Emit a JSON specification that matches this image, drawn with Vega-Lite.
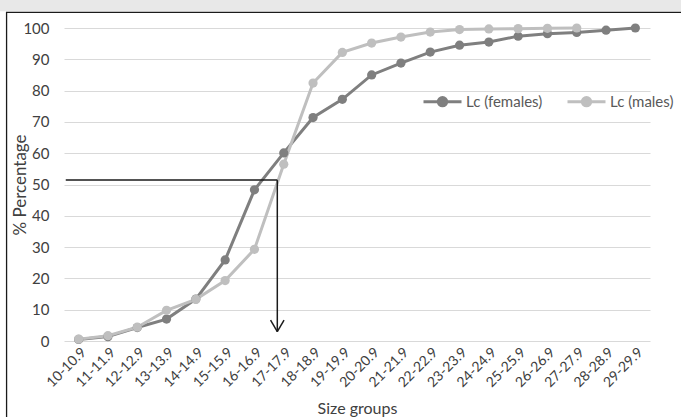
{
  "$schema": "https://vega.github.io/schema/vega-lite/v6.json",
  "width": 586,
  "height": 313,
  "autosize": "none",
  "padding": {"left": 64, "top": 28, "right": 31, "bottom": 76},
  "background": "white",
  "config": {
    "view": {"stroke": null},
    "font": "Lato",
    "axisY": {"tickCount": 11, "labelOverlap": false},
    "axisX": {"tickCount": 20, "labelOverlap": false}
  },
  "datasets": {
    "lc": [
      {"idx": 0, "size": "10-10.9", "sex": "Lc (females)", "pct": 0.5},
      {"idx": 1, "size": "11-11.9", "sex": "Lc (females)", "pct": 1.4},
      {"idx": 2, "size": "12-12.9", "sex": "Lc (females)", "pct": 4.3},
      {"idx": 3, "size": "13-13.9", "sex": "Lc (females)", "pct": 7.0},
      {"idx": 4, "size": "14-14.9", "sex": "Lc (females)", "pct": 13.4},
      {"idx": 5, "size": "15-15.9", "sex": "Lc (females)", "pct": 25.9},
      {"idx": 6, "size": "16-16.9", "sex": "Lc (females)", "pct": 48.3},
      {"idx": 7, "size": "17-17.9", "sex": "Lc (females)", "pct": 60.1},
      {"idx": 8, "size": "18-18.9", "sex": "Lc (females)", "pct": 71.4},
      {"idx": 9, "size": "19-19.9", "sex": "Lc (females)", "pct": 77.2},
      {"idx": 10, "size": "20-20.9", "sex": "Lc (females)", "pct": 85.0},
      {"idx": 11, "size": "21-21.9", "sex": "Lc (females)", "pct": 88.8},
      {"idx": 12, "size": "22-22.9", "sex": "Lc (females)", "pct": 92.3},
      {"idx": 13, "size": "23-23.9", "sex": "Lc (females)", "pct": 94.5},
      {"idx": 14, "size": "24-24.9", "sex": "Lc (females)", "pct": 95.5},
      {"idx": 15, "size": "25-25.9", "sex": "Lc (females)", "pct": 97.4},
      {"idx": 16, "size": "26-26.9", "sex": "Lc (females)", "pct": 98.2},
      {"idx": 17, "size": "27-27.9", "sex": "Lc (females)", "pct": 98.6},
      {"idx": 18, "size": "28-28.9", "sex": "Lc (females)", "pct": 99.3},
      {"idx": 19, "size": "29-29.9", "sex": "Lc (females)", "pct": 100},
      {"idx": 0, "size": "10-10.9", "sex": "Lc (males)", "pct": 0.6},
      {"idx": 1, "size": "11-11.9", "sex": "Lc (males)", "pct": 1.7},
      {"idx": 2, "size": "12-12.9", "sex": "Lc (males)", "pct": 4.4},
      {"idx": 3, "size": "13-13.9", "sex": "Lc (males)", "pct": 9.8},
      {"idx": 4, "size": "14-14.9", "sex": "Lc (males)", "pct": 13.3},
      {"idx": 5, "size": "15-15.9", "sex": "Lc (males)", "pct": 19.3},
      {"idx": 6, "size": "16-16.9", "sex": "Lc (males)", "pct": 29.3},
      {"idx": 7, "size": "17-17.9", "sex": "Lc (males)", "pct": 56.5},
      {"idx": 8, "size": "18-18.9", "sex": "Lc (males)", "pct": 82.4},
      {"idx": 9, "size": "19-19.9", "sex": "Lc (males)", "pct": 92.2},
      {"idx": 10, "size": "20-20.9", "sex": "Lc (males)", "pct": 95.2},
      {"idx": 11, "size": "21-21.9", "sex": "Lc (males)", "pct": 97.1},
      {"idx": 12, "size": "22-22.9", "sex": "Lc (males)", "pct": 98.7},
      {"idx": 13, "size": "23-23.9", "sex": "Lc (males)", "pct": 99.5},
      {"idx": 14, "size": "24-24.9", "sex": "Lc (males)", "pct": 99.7},
      {"idx": 15, "size": "25-25.9", "sex": "Lc (males)", "pct": 99.8},
      {"idx": 16, "size": "26-26.9", "sex": "Lc (males)", "pct": 99.9},
      {"idx": 17, "size": "27-27.9", "sex": "Lc (males)", "pct": 100}
    ],
    "arrow": [
      {"idx": -0.44, "idx2": 6.78, "pct": 51.4, "pct2": 51.4},
      {"idx": 6.78, "idx2": 6.78, "pct": 51.4, "pct2": 3.0},
      {"idx": 6.55, "idx2": 6.78, "pct": 6.7, "pct2": 3.0},
      {"idx": 7.01, "idx2": 6.78, "pct": 6.7, "pct2": 3.0}
    ]
  },
  "layer": [
    {
      "data": {"name": "lc"},
      "mark": {"type": "line", "strokeWidth": 3, "point": {"filled": true, "size": 85, "opacity": 1}},
      "encoding": {
        "x": {
          "field": "idx", "type": "quantitative",
          "scale": {"domain": [-0.5, 19.5], "nice": false, "zero": false, "type": "linear"},
          "title": "Size groups",
          "axis": {
            "tickCount": 20,
            "values": [0,1,2,3,4,5,6,7,8,9,10,11,12,13,14,15,16,17,18,19],
            "labelExpr": "['10-10.9','11-11.9','12-12.9','13-13.9','14-14.9','15-15.9','16-16.9','17-17.9','18-18.9','19-19.9','20-20.9','21-21.9','22-22.9','23-23.9','24-24.9','25-25.9','26-26.9','27-27.9','28-28.9','29-29.9'][datum.value]",
            "labelAngle": -45,
            "labelFontSize": 14,
            "labelColor": "#404040",
            "labelPadding": 4,
            "ticks": false,
            "domain": false,
            "grid": false,
            "labelOverlap": false,
            "titleFontSize": 16,
            "titleFontWeight": "normal",
            "titleColor": "#404040",
            "titleBaseline": "bottom",
            "titleY": 75
          }
        },
        "y": {
          "field": "pct", "type": "quantitative",
          "scale": {"domain": [0, 100], "nice": false, "type": "linear"},
          "title": "% Percentage",
          "axis": {
            "tickCount": 11,
            "values": [0,10,20,30,40,50,60,70,80,90,100],
            "labelFontSize": 15,
            "labelColor": "#404040",
            "labelPadding": 15,
            "labelOverlap": false,
            "ticks": false,
            "domain": false,
            "grid": true,
            "gridColor": "#d9d9d9",
            "gridWidth": 1,
            "titleFontSize": 17,
            "titleFontWeight": "normal",
            "titleColor": "#404040",
            "titleX": -44,
            "titleY": 156.5,
            "titleBaseline": "middle",
            "titleAlign": "center",
            "titleAngle": -90
          }
        },
        "color": {
          "field": "sex", "type": "nominal",
          "scale": {"domain": ["Lc (females)", "Lc (males)"], "range": ["#7f7f7f", "#bfbfbf"]},
          "legend": {
            "title": null,
            "orient": "none",
            "legendX": 358,
            "legendY": 53,
            "direction": "horizontal",
            "symbolType": "M-1,0L1,0M-0.22,0A0.22,0.22,0,1,1,0.22,0A0.22,0.22,0,1,1,-0.22,0Z",
            "symbolSize": 1444,
            "symbolStrokeWidth": 3,
            "labelFontSize": 15,
            "labelColor": "#595959",
            "labelOffset": 3,
            "columnPadding": 18,
            "encode": {"symbols": {"update": {"fill": {"scale": "color", "field": "value"}, "opacity": {"value": 1}}}}
          }
        }
      }
    },
    {
      "data": {"values": [{"k": 1}]},
      "mark": {"type": "rect", "fill": "#e8e8e8", "clip": false},
      "encoding": {
        "x": {"datum": -3, "type": "quantitative", "title": "Size groups", "axis": {"tickCount": 20, "values": [0,1,2,3,4,5,6,7,8,9,10,11,12,13,14,15,16,17,18,19]}},
        "x2": {"datum": 21},
        "y": {"datum": 105.35, "type": "quantitative", "title": "% Percentage", "axis": {"tickCount": 11, "values": [0,10,20,30,40,50,60,70,80,90,100], "grid": true, "gridColor": "#d9d9d9", "gridWidth": 1}},
        "y2": {"datum": 110}
      }
    },
    {
      "data": {"values": [{"k": 1}]},
      "mark": {"type": "rect", "fill": "transparent", "stroke": "#1a1a1a", "strokeWidth": 1.3, "clip": false},
      "encoding": {
        "x": {"datum": -2.46, "type": "quantitative", "title": "Size groups", "axis": {"tickCount": 20, "values": [0,1,2,3,4,5,6,7,8,9,10,11,12,13,14,15,16,17,18,19]}},
        "x2": {"datum": 21},
        "y": {"datum": 105.0, "type": "quantitative", "title": "% Percentage", "axis": {"tickCount": 11, "values": [0,10,20,30,40,50,60,70,80,90,100], "grid": true, "gridColor": "#d9d9d9", "gridWidth": 1}},
        "y2": {"datum": -30}
      }
    },
    {
      "data": {"name": "arrow"},
      "mark": {"type": "rule", "color": "#1a1a1a", "strokeWidth": 1.5},
      "encoding": {
        "x": {"field": "idx", "type": "quantitative", "title": "Size groups", "axis": {"tickCount": 20, "values": [0,1,2,3,4,5,6,7,8,9,10,11,12,13,14,15,16,17,18,19]}},
        "x2": {"field": "idx2"},
        "y": {"field": "pct", "type": "quantitative", "title": "% Percentage", "axis": {"tickCount": 11, "values": [0,10,20,30,40,50,60,70,80,90,100], "grid": true, "gridColor": "#d9d9d9", "gridWidth": 1}},
        "y2": {"field": "pct2"}
      }
    }
  ]
}
